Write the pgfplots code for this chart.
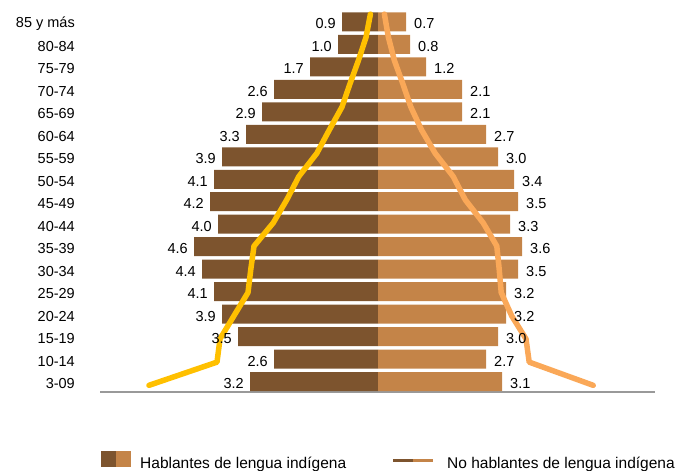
\documentclass[border=0pt]{standalone}
\usepackage{pgfplots}
\pgfplotsset{compat=1.18}
\usepackage{pgfplotstable}
\usepackage{fontspec}
\setmainfont{Liberation Sans}
\definecolor{dark}{RGB}{125,84,46}
\definecolor{light}{RGB}{196,132,72}
\definecolor{gold}{RGB}{255,192,0}
\definecolor{lorange}{RGB}{250,168,88}

\pgfplotstableread{
y h n
0 3.2 3.1
1 2.6 2.7
2 3.5 3.0
3 3.9 3.2
4 4.1 3.2
5 4.4 3.5
6 4.6 3.6
7 4.0 3.3
8 4.2 3.5
9 4.1 3.4
10 3.9 3.0
11 3.3 2.7
12 2.9 2.1
13 2.6 2.1
14 1.7 1.2
15 1.0 0.8
16 0.9 0.7
}\bars

\pgfplotstableread{
y m f
-0.170 5.725 5.38
0.863 4.025 3.78
1.895 3.95 3.70
2.928 3.60 3.34
3.960 3.25 3.08
4.993 3.18 3.03
6.025 3.10 2.97
7.058 2.62 2.63
8.090 2.28 2.18
9.123 1.98 1.88
10.155 1.53 1.43
11.188 1.22 1.09
12.220 0.90 0.82
13.253 0.70 0.62
14.285 0.49 0.41
15.318 0.30 0.26
16.350 0.19 0.16
}\lines

\begin{document}
\begin{tikzpicture}
\path[use as bounding box] (0,0) rectangle (678bp,471bp);
\begin{axis}[
  at={(100bp,79bp)}, anchor=south west,
  scale only axis, width=555bp, height=387bp,
  xmin=-6.95, xmax=6.925, ymin=-0.467, ymax=16.756,
  axis x line*=bottom, axis y line*=left,
  x axis line style={draw=black!40, line width=2bp, -},
  y axis line style={draw=none},
  xtick=\empty, ytick={0,...,16},
  yticklabels={3-09,10-14,15-19,20-24,25-29,30-34,35-39,40-44,45-49,50-54,55-59,60-64,65-69,70-74,75-79,80-84,85 y más},
  major tick length=0pt,
  yticklabel style={anchor=east, inner sep=0pt, xshift=-25bp, yshift=-2bp, font=\fontsize{14.5bp}{17bp}\selectfont},
  clip=false,
]
\addplot[xbar, bar width=19bp, bar shift=0pt, fill=dark, draw=none,
  point meta=explicit symbolic, nodes near coords,
  every node near coord/.append style={anchor=east, inner sep=0pt, xshift=-6bp, yshift=-2bp, text=black, font=\fontsize{14.5bp}{17bp}\selectfont}]
  table[x expr=-\thisrow{h}, y=y, meta=h]{\bars};
\addplot[xbar, bar width=19bp, bar shift=0pt, fill=light, draw=none,
  point meta=explicit symbolic, nodes near coords,
  every node near coord/.append style={anchor=west, inner sep=0pt, xshift=8bp, yshift=-2bp, text=black, font=\fontsize{14.5bp}{17bp}\selectfont}]
  table[x=n, y=y, meta=n]{\bars};
\addplot[gold, line width=5.5bp, line cap=round, line join=round, no marks]
  table[x expr=-\thisrow{m}, y=y]{\lines};
\addplot[lorange, line width=5.5bp, line cap=round, line join=round, no marks]
  table[x=f, y=y]{\lines};
\end{axis}
\fill[dark] (101bp,4bp) rectangle (116bp,20bp);
\fill[light] (116bp,4bp) rectangle (131bp,20bp);
\node[anchor=base west, inner sep=0pt, font=\fontsize{15.5bp}{18bp}\selectfont] at (140bp,3bp) {Hablantes de lengua indígena};
\draw[dark, line width=3bp] (393bp,10bp) -- (413bp,10bp);
\draw[light, line width=3bp] (413bp,10bp) -- (433bp,10bp);
\node[anchor=base west, inner sep=0pt, font=\fontsize{15.5bp}{18bp}\selectfont] at (447bp,3bp) {No hablantes de lengua indígena};
\end{tikzpicture}
\end{document}
